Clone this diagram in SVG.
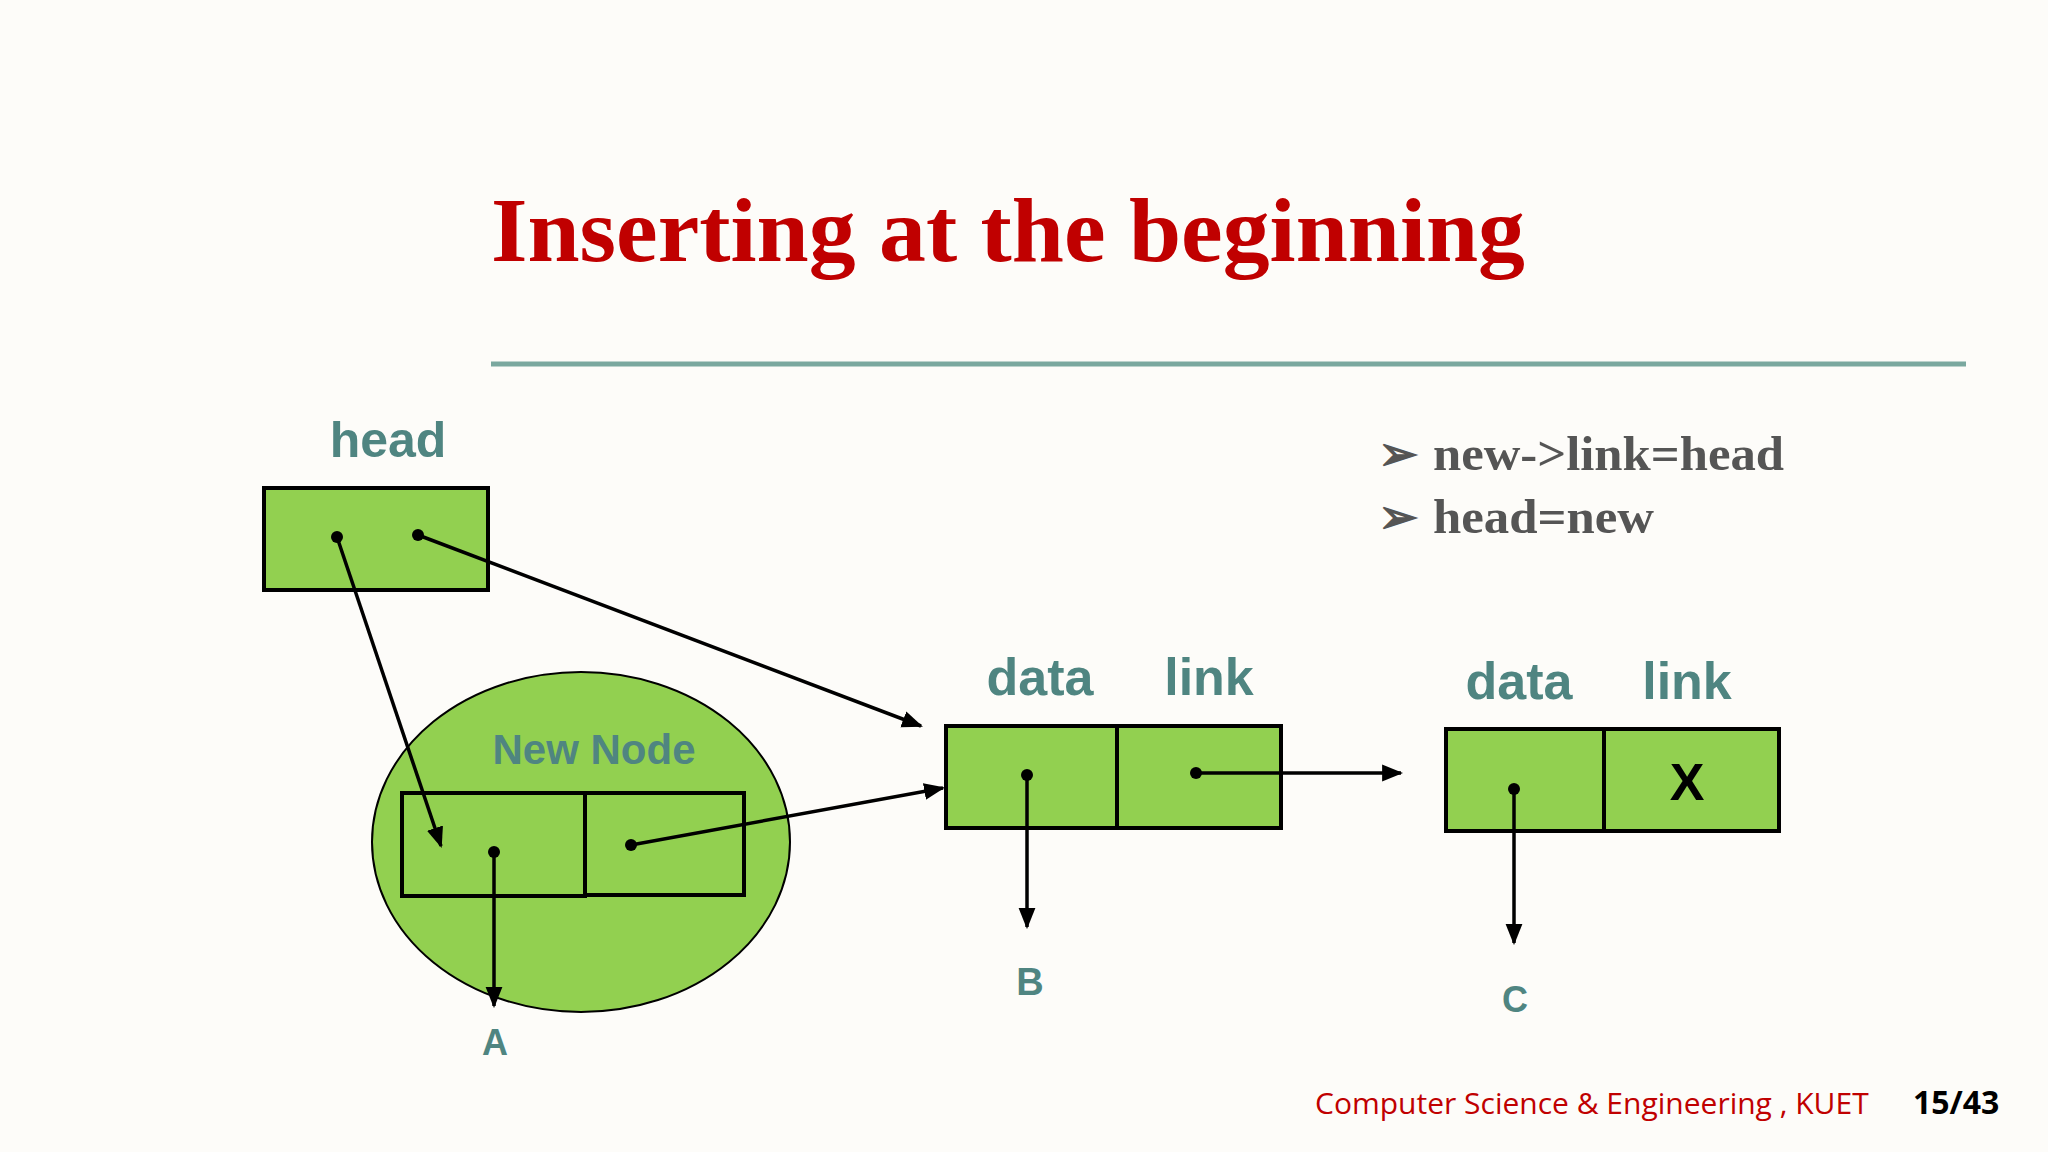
<svg xmlns="http://www.w3.org/2000/svg" width="2048" height="1152" viewBox="0 0 2048 1152">
<defs>
<marker id="ah" viewBox="0 0 10 10" refX="9" refY="5" markerWidth="6" markerHeight="6" orient="auto"><path d="M0,1 L10,5 L0,9 z" fill="#000"/></marker>
<style>
.box{fill:#92D050;stroke:#000;stroke-width:4}
.lbl{font-family:"Liberation Sans",Arial,sans-serif;font-weight:bold;fill:#4F8581;text-anchor:middle}
.ln{stroke:#000;stroke-width:3.5;fill:none;marker-end:url(#ah)}
.dot{fill:#000}
</style>
</defs>
<rect width="2048" height="1152" fill="#FDFCF9"/>
<text x="491" y="261" font-family="Liberation Serif,serif" font-weight="bold" font-size="91" fill="#C00000" textLength="1034" lengthAdjust="spacingAndGlyphs">Inserting at the beginning</text>
<line x1="491" y1="364" x2="1966" y2="364" stroke="#7AA89F" stroke-width="5"/>
<g id="bullets" font-family="Liberation Serif,serif" font-weight="bold" font-size="48" fill="#555">
<text x="1378" y="470">➢</text><text x="1433" y="470" textLength="351" lengthAdjust="spacingAndGlyphs">new-&gt;link=head</text>
<text x="1378" y="533">➢</text><text x="1433" y="533" textLength="221" lengthAdjust="spacingAndGlyphs">head=new</text>
</g>
<g id="head"><text class="lbl" x="388" y="457" font-size="50">head</text>
<rect class="box" x="264" y="488" width="224" height="102"/>
<circle class="dot" cx="337" cy="537" r="6"/><circle class="dot" cx="418" cy="535" r="6"/></g>
<g id="newnode"><ellipse cx="581" cy="842" rx="209" ry="170" fill="#92D050" stroke="#000" stroke-width="2"/>
<text class="lbl" x="594" y="764" font-size="42">New Node</text>
<rect class="box" x="402" y="793" width="183" height="103"/><rect class="box" x="585" y="793" width="159" height="102"/>
<circle class="dot" cx="494" cy="852" r="6"/><circle class="dot" cx="631" cy="845" r="6"/>
<text class="lbl" x="495" y="1055" font-size="36">A</text></g>
<g id="nodeB"><text class="lbl" x="1040" y="695" font-size="52">data</text><text class="lbl" x="1209" y="695" font-size="52">link</text>
<rect class="box" x="946" y="726" width="171" height="102"/><rect class="box" x="1117" y="726" width="164" height="102"/>
<circle class="dot" cx="1027" cy="775" r="6"/><circle class="dot" cx="1196" cy="773" r="6"/>
<text class="lbl" x="1030" y="995" font-size="38">B</text></g>
<g id="nodeC"><text class="lbl" x="1519" y="699" font-size="52">data</text><text class="lbl" x="1687" y="699" font-size="52">link</text>
<rect class="box" x="1446" y="729" width="158" height="102"/><rect class="box" x="1604" y="729" width="175" height="102"/>
<text x="1687" y="800" font-family="Liberation Sans,sans-serif" font-weight="bold" font-size="52" text-anchor="middle">X</text>
<circle class="dot" cx="1514" cy="789" r="6"/>
<text class="lbl" x="1515" y="1012" font-size="36">C</text></g>
<g id="connectors">
<line class="ln" x1="337" y1="537" x2="441" y2="846"/>
<line class="ln" x1="418" y1="535" x2="921" y2="726"/>
<line class="ln" x1="631" y1="845" x2="943" y2="788"/>
<line class="ln" x1="494" y1="852" x2="494" y2="1006"/>
<line class="ln" x1="1027" y1="775" x2="1027" y2="927"/>
<line class="ln" x1="1196" y1="773" x2="1401" y2="773"/>
<line class="ln" x1="1514" y1="789" x2="1514" y2="943"/>
</g>
<text x="1315" y="1114" font-family="Open Sans,sans-serif" font-size="30" fill="#C00000">Computer Science &amp; Engineering , KUET</text>
<text x="1913" y="1114" font-family="Open Sans,sans-serif" font-weight="bold" font-size="32" fill="#000">15/43</text>
</svg>
